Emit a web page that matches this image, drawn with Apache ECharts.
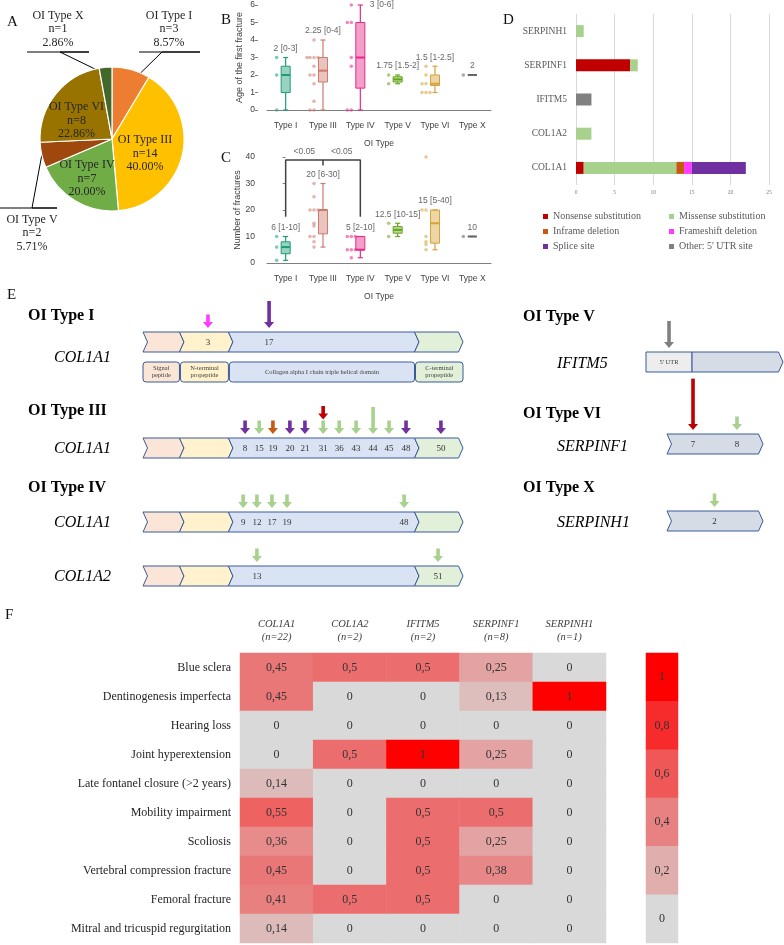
<!DOCTYPE html>
<html><head><meta charset="utf-8">
<script src="https://cdn.jsdelivr.net/npm/echarts@6/dist/echarts.min.js"></script>
<style>html,body{margin:0;padding:0;background:#fff}#c{width:784px;height:945px}</style>
</head><body><div id="c"></div>
<script>
// ================= DATA =================
// Panel A – distribution of OI types
const piePhenotypes = ['OI Type I','OI Type III','OI Type IV','OI Type V','OI Type VI','OI Type X'];
const pieCounts = [3,14,7,2,8,1];
const pieColors = ['#ED7D31','#FFC000','#70AD47','#9E480E','#997300','#43682B'];

// Panels B/C – box plots
const oiTypes = ['Type I','Type III','Type IV','Type V','Type VI','Type X'];
// [min, Q1, median, Q3, max]
const ageBox = [[0,1,2,2.5,3],[0,1.6,2.25,3,4],[0,1.25,3,5,6],[1.5,1.6,1.75,1.9,2],[1,1.4,1.5,2,2.5],[2,2,2,2,2]];
const agePoints = [[3,2,0],[4,3,3,3,3,2.5,2,2,1.5,0.5,0,0],[6,5,5,3,2.5,0,0],[2,1.5],[2.5,2,1.5,1.5,1,1,1],[2]];
const ageLabels = ['2 [0-3]','2.25 [0-4]','3 [0-6]','1.75 [1.5-2]','1.5 [1-2.5]','2'];
const fracBox = [[1,3.5,6,8,10],[6,11,20,20,30],[2,5,5,10,10],[10,11.25,12.5,13.75,15],[5,7.5,15,20,20],[10,10,10,10,10]];
const fracPoints = [[10,6,1],[30,25,20,20,20,15,14,10,10,8,6],[10,10,10,5,5,5,2],[15,10],[40,20,20,10,8,7,5],[10]];
const fracLabels = ['6 [1-10]','20 [6-30]','5 [2-10]','12.5 [10-15]','15 [5-40]','10'];
const fracSigPairs = [[0,1,'<0.05'],[1,2,'<0.05']];

// Panel D – mutation types per gene
const dGenes = ['COL1A1','COL1A2','IFITM5','SERPINF1','SERPINH1'];
const mutTypes = ['Nonsense substitution','Missense substitution','Inframe deletion','Frameshift deletion','Splice site',"Other: 5' UTR site"];
const mutColors = ['#C00000','#A9D18E','#C55A11','#FF3BFF','#7030A0','#808080'];
const nonsenseCounts = [1,0,0,7,0];
const missenseCounts = [12,2,0,1,1];
const inframeCounts = [1,0,0,0,0];
const frameshiftCounts = [1,0,0,0,0];
const spliceCounts = [7,0,0,0,0];
const otherCounts = [0,0,2,0,0];

// Panel E – mutation maps: [exon, position along schematic (%), mutation type index, patients]
const colDomainEnds = [12.8, 28.1, 86.25, 100];
const colDomainNames = ['Signal\npeptide','N-terminal\npropeptide','Collagen alpha I chain triple helical domain','C-terminal\npropeptide'];
const ifitm5Ends = [33.6, 100];
const ifitm5Names = ["5' UTR", ''];
const mutTypeI_COL1A1 = [['3',20.3,3,1],['17',39.4,4,2]];
const mutTypeIII_COL1A1 = [['8',31.9,4,1],['15',36.3,1,1],['19',40.6,2,1],['20',45.9,4,1],['21',50.6,4,1],['31',56.3,1,1],['31',56.3,0,1],['36',61.3,1,1],['43',66.6,1,1],['44',71.9,1,2],['45',76.9,1,1],['48',82.2,4,1],['50',93.1,4,1]];
const mutTypeIV_COL1A1 = [['9',31.3,1,1],['12',35.6,1,1],['17',40.3,1,1],['19',45,1,1],['48',81.6,1,1]];
const mutTypeIV_COL1A2 = [['13',35.6,1,1],['51',92.2,1,1]];
const mutTypeV_IFITM5 = [['',16.8,5,2]];
const mutTypeVI_SERPINF1 = [['7',27.1,0,7],['8',72.9,1,1]];
const mutTypeX_SERPINH1 = [['2',49.5,1,1]];

// Panel F – phenotype frequencies per gene
const fGenes = ['COL1A1','COL1A2','IFITM5','SERPINF1','SERPINH1'];
const fGeneN = [22,2,2,8,1];
const fFeatures = ['Blue sclera','Dentinogenesis imperfecta','Hearing loss','Joint hyperextension','Late fontanel closure (>2 years)','Mobility impairment','Scoliosis','Vertebral compression fracture','Femoral fracture','Mitral and tricuspid regurgitation'];
const fValues = [
  [0.45,0.5,0.5,0.25,0],
  [0.45,0,0,0.13,1],
  [0,0,0,0,0],
  [0,0.5,1,0.25,0],
  [0.14,0,0,0,0],
  [0.55,0,0.5,0.5,0],
  [0.36,0,0.5,0.25,0],
  [0.45,0,0.5,0.38,0],
  [0.41,0.5,0.5,0,0],
  [0.14,0,0,0,0]
];
const fScaleValues = [1,0.8,0.6,0.4,0.2,0];

// ================= STYLE / LAYOUT =================
const SERIF = '"Liberation Serif","DejaVu Serif",serif';
const SANS = '"Liberation Sans",Arial,sans-serif';
const typeColors = ['#1B9E77','#CF7A6D','#E7298A','#66A61E','#D6A23A','#666666'];
function rgba(hex,a){const n=parseInt(hex.slice(1),16);return 'rgba('+(n>>16)+','+((n>>8)&255)+','+(n&255)+','+a+')';}
const comma = v => String(v).replace('.', ',');

const chart = echarts.init(document.getElementById('c'), null, {renderer:'canvas'});
const grids = [], xAxes = [], yAxes = [], series = [];

// ---------- Panel A ----------
const PIE_C = [112,139], PIE_R = 72;
const pieTotal = pieCounts.reduce((a,b)=>a+b,0);
const pieOutside = {
  0:{cx:169, cy:29, ly:52, lx0:139, lx1:200, ax:162, k:0.75},
  3:{cx:32, cy:233, ly:208, lx0:0, lx1:57, ax:32, k:1.0},
  5:{cx:58, cy:29, ly:52, lx0:27, lx1:89, ax:60, k:0.9}
};
function midDir(idx){let cum=0;for(let i=0;i<idx;i++)cum+=pieCounts[i];const a=2*Math.PI*(cum+pieCounts[idx]/2)/pieTotal;return [Math.sin(a),-Math.cos(a)];}
series.push({
  type:'pie', center:PIE_C, radius:PIE_R, startAngle:90, clockwise:true,
  avoidLabelOverlap:false, minShowLabelAngle:0, silent:true,
  itemStyle:{borderColor:'#fff', borderWidth:1.2},
  label:{fontFamily:SERIF, fontSize:12, lineHeight:13.5, color:'#262626',
    formatter:p=>p.name+'\nn='+p.value+'\n'+p.percent.toFixed(2)+'%'},
  labelLine:{lineStyle:{color:'#000', width:1}},
  labelLayout:function(p){
    const o = pieOutside[p.dataIndex];
    if(!o) return {dx:-5, dy:6};
    const d = midDir(p.dataIndex);
    const s = [PIE_C[0]+o.k*PIE_R*d[0], PIE_C[1]+o.k*PIE_R*d[1]];
    return {x:o.cx, y:o.cy, align:'center', verticalAlign:'middle',
      labelLinePoints:[s,[o.ax,o.ly],[o.lx1,o.ly],[o.lx0,o.ly]]};
  },
  data: piePhenotypes.map((n,i)=>({name:n, value:pieCounts[i], itemStyle:{color:pieColors[i]},
    label:{position: pieOutside[i] ? 'outside' : 'inside'},
    labelLine:{show: !!pieOutside[i], length:10, length2:10}}))
});

// ---------- Panels B & C ----------
function boxPanel(gi, top, height, boxes, points, labels, yMax, yInt, yName, labelOverrides){
  grids.push({left:267, top:top, width:224, height:height});
  const xi = xAxes.length, yi = yAxes.length;
  xAxes.push({gridIndex:gi, type:'category', data:oiTypes, offset:6,
    axisLine:{lineStyle:{color:'#7f7f7f'}}, axisTick:{inside:true, length:4, alignWithLabel:true, lineStyle:{color:'#7f7f7f'}},
    axisLabel:{interval:0, fontFamily:SANS, fontSize:8.5, color:'#404040', margin:5},
    name:'OI Type', nameLocation:'middle', nameGap:23, nameTextStyle:{fontFamily:SANS, fontSize:8.5, color:'#404040'}});
  yAxes.push({gridIndex:gi, type:'value', min:0, max:yMax, interval:yInt, offset:9,
    axisLine:{show:false}, axisTick:{show:true, length:3, lineStyle:{color:'#7f7f7f'}}, splitLine:{show:false},
    axisLabel:{fontFamily:SANS, fontSize:8.5, color:'#404040', margin:3},
    name:yName, nameLocation:'middle', nameGap:14, nameTextStyle:{fontFamily:SANS, fontSize:9, color:'#404040'}});
  // boxes
  series.push({type:'custom', xAxisIndex:xi, yAxisIndex:yi, clip:false, silent:true,
    data: boxes.map((b,i)=>[i,b[2]]), encode:{x:0,y:1},
    renderItem:(params,api)=>{
      const i=params.dataIndex, b=boxes[i], c=typeColors[i];
      const x=api.coord([i,b[2]])[0]; const Y=v=>api.coord([i,v])[1];
      const hw=4.5, cw=2.5, lw=1.2, ch=[];
      ch.push({type:'line',shape:{x1:x,y1:Y(b[0]),x2:x,y2:Y(b[1])},style:{stroke:c,lineWidth:lw}});
      ch.push({type:'line',shape:{x1:x,y1:Y(b[3]),x2:x,y2:Y(b[4])},style:{stroke:c,lineWidth:lw}});
      ch.push({type:'line',shape:{x1:x-cw,y1:Y(b[0]),x2:x+cw,y2:Y(b[0])},style:{stroke:c,lineWidth:lw}});
      ch.push({type:'line',shape:{x1:x-cw,y1:Y(b[4]),x2:x+cw,y2:Y(b[4])},style:{stroke:c,lineWidth:lw}});
      ch.push({type:'rect',shape:{x:x-hw,y:Y(b[3]),width:2*hw,height:Math.max(Y(b[1])-Y(b[3]),0)},style:{fill:rgba(c,0.45),stroke:c,lineWidth:1}});
      ch.push({type:'line',shape:{x1:x-hw,y1:Y(b[2]),x2:x+hw,y2:Y(b[2])},style:{stroke:c,lineWidth:2}});
      return {type:'group',children:ch};
    }});
  // jittered points
  const pts=[];
  points.forEach((arr,i)=>{const seen={};arr.forEach(v=>{const k=seen[v]||0;seen[v]=k+1;
    const off=[-9,-13,-5,-16,-11][k%5];
    pts.push({value:[i,v], symbolOffset:[off,0], itemStyle:{color:rgba(typeColors[i],0.7)}});});});
  series.push({type:'scatter', xAxisIndex:xi, yAxisIndex:yi, symbolSize:3.6, clip:false, silent:true, data:pts, z:3});
  // summary labels
  series.push({type:'scatter', xAxisIndex:xi, yAxisIndex:yi, symbolSize:1, clip:false, silent:true,
    itemStyle:{color:'rgba(0,0,0,0)'},
    label:{show:true, position:'top', distance:4, fontFamily:SANS, fontSize:8.5, color:'#404040', formatter:p=>labels[p.dataIndex]},
    data: boxes.map((b,i)=>{const it={value:[i,b[4]]}; if(labelOverrides && labelOverrides[i]) it.label=labelOverrides[i]; return it;})});
  return {xi, yi};
}
boxPanel(0, 5, 105, ageBox, agePoints, ageLabels, 6, 1, 'Age of the first fracture', {2:{position:'right', distance:9}});
const cAx = boxPanel(1, 157, 106, fracBox, fracPoints, fracLabels, 40, 10, 'Number of fractures');
// hidden value x-axis in panel C for the significance bracket
const sigXi = xAxes.length;
xAxes.push({gridIndex:1, type:'value', min:-0.5, max:5.5, show:false});
const sigTop = 38.9, sigLow = 17.5, sigTick = 36.8;
const sigFirst = fracSigPairs[0][0], sigLast = fracSigPairs[fracSigPairs.length-1][1];
series.push({type:'line', xAxisIndex:sigXi, yAxisIndex:cAx.yi, symbol:'none', silent:true, clip:false,
  lineStyle:{color:'#404040', width:1.5},
  data:[[sigFirst,sigLow],[sigFirst,sigTop],[sigLast,sigTop],[sigLast,sigLow]]});
fracSigPairs.slice(0,-1).forEach(p=>{
  series.push({type:'line', xAxisIndex:sigXi, yAxisIndex:cAx.yi, symbol:'none', silent:true, clip:false,
    lineStyle:{color:'#404040', width:1.5}, data:[[p[1],sigTop],[p[1],sigTick]]});
});
series.push({type:'scatter', xAxisIndex:sigXi, yAxisIndex:cAx.yi, symbolSize:1, clip:false, silent:true,
  itemStyle:{color:'rgba(0,0,0,0)'},
  label:{show:true, position:'inside', fontFamily:SANS, fontSize:8.5, color:'#404040', formatter:p=>fracSigPairs[p.dataIndex][2]},
  data: fracSigPairs.map(p=>[(p[0]+p[1])/2, 41.9])});

// ---------- Panel D ----------
grids.push({left:576, top:14, width:193, height:171});
const dXi = xAxes.length, dYi = yAxes.length;
xAxes.push({gridIndex:2, type:'value', min:0, max:25, interval:5,
  axisLine:{show:false}, axisTick:{show:false},
  splitLine:{lineStyle:{color:'#D9D9D9', width:1}},
  axisLabel:{fontFamily:SERIF, fontSize:5.5, color:'#7f7f7f', margin:5}});
yAxes.push({gridIndex:2, type:'category', data:dGenes,
  axisLine:{show:false}, axisTick:{show:false},
  axisLabel:{fontFamily:SERIF, fontSize:9.5, color:'#595959', margin:9}});
[nonsenseCounts, missenseCounts, inframeCounts, frameshiftCounts, spliceCounts, otherCounts].forEach((arr,k)=>{
  series.push({type:'bar', name:mutTypes[k], stack:'d', xAxisIndex:dXi, yAxisIndex:dYi, barWidth:12, silent:true,
    itemStyle:{color:mutColors[k]}, data:arr});
});

// ---------- Panel F ----------
grids.push({left:240, top:653, width:366, height:290});
const fXi = xAxes.length, fYi = yAxes.length;
xAxes.push({gridIndex:3, type:'category', position:'top', data:fGenes.map((g,i)=>g+'\n(n='+fGeneN[i]+')'),
  axisLine:{show:false}, axisTick:{show:false}, splitArea:{show:false},
  axisLabel:{interval:0, fontFamily:SERIF, fontStyle:'italic', fontSize:10.5, lineHeight:13, color:'#404040', margin:9}});
yAxes.push({gridIndex:3, type:'category', inverse:true, data:fFeatures,
  axisLine:{show:false}, axisTick:{show:false}, splitArea:{show:false},
  axisLabel:{interval:0, fontFamily:SERIF, fontSize:12, color:'#262626', margin:9}});
const heatIdx = series.length;
const heatData=[]; fValues.forEach((row,r)=>row.forEach((v,c)=>heatData.push([c,r,v])));
series.push({type:'heatmap', xAxisIndex:fXi, yAxisIndex:fYi, silent:true, data:heatData,
  label:{show:true, fontFamily:SERIF, fontSize:12, color:'#333', formatter:p=>comma(p.value[2])}});
grids.push({left:646, top:653, width:32, height:290});
const sXi = xAxes.length, sYi = yAxes.length;
xAxes.push({gridIndex:4, type:'category', data:['scale'], show:false});
yAxes.push({gridIndex:4, type:'category', inverse:true, data:fScaleValues.map(comma), show:false});
const scaleIdx = series.length;
series.push({type:'heatmap', xAxisIndex:sXi, yAxisIndex:sYi, silent:true,
  data: fScaleValues.map((v,i)=>[0,i,v]),
  label:{show:true, fontFamily:SERIF, fontSize:12, color:'#333', formatter:p=>comma(p.value[2])}});

// ---------- Panel E ----------
const FILL_COL = ['#FBE5D6','#FFF2CC','#DAE3F3','#E2F0D9'];
const STROKE = '#3B5A9A';
const eRows = [
  {left:143, top:332, width:320, kind:'col', muts:mutTypeI_COL1A1},
  {left:143, top:438, width:320, kind:'col', muts:mutTypeIII_COL1A1},
  {left:143, top:512, width:320, kind:'col', muts:mutTypeIV_COL1A1},
  {left:143, top:566, width:320, kind:'col', muts:mutTypeIV_COL1A2},
  {left:646, top:352, width:137, kind:'ifitm5', muts:mutTypeV_IFITM5},
  {left:667, top:434, width:96, kind:'single', muts:mutTypeVI_SERPINF1},
  {left:667, top:511, width:96, kind:'single', muts:mutTypeX_SERPINH1},
  {left:143, top:362, width:320, kind:'domains', muts:[]}
];
function segDefs(kind){
  if(kind==='col' || kind==='domains') return colDomainEnds.map((e,i)=>({s:i?colDomainEnds[i-1]:0, e, fill:FILL_COL[i], notch:true, point:true, label: kind==='domains'?colDomainNames[i]:''}));
  if(kind==='ifitm5') return ifitm5Ends.map((e,i)=>({s:i?ifitm5Ends[i-1]:0, e, fill:i?'#D6DCE5':'#EDEDED', notch:false, point:i===1, label:ifitm5Names[i]}));
  return [{s:0, e:100, fill:'#D6DCE5', notch:true, point:true, label:''}];
}
eRows.forEach((row)=>{
  const gi = grids.length;
  grids.push({left:row.left, top:row.top, width:row.width, height:20});
  const xi = xAxes.length, yi = yAxes.length;
  xAxes.push({gridIndex:gi, type:'value', min:0, max:100, show:false});
  yAxes.push({gridIndex:gi, type:'value', min:0, max:1, show:false});
  const segs = segDefs(row.kind);
  const d = 4.5;
  if(row.kind==='domains'){
    series.push({type:'custom', xAxisIndex:xi, yAxisIndex:yi, clip:false, silent:true,
      data: segs.map(s=>[s.s, s.e, 0.5]), encode:{x:[0,1], y:2},
      renderItem:(params,api)=>{
        const i=params.dataIndex, sg=segs[i], last=segs.length-1;
        const yT=api.coord([0,1])[1], yB=api.coord([0,0])[1];
        const xs=api.coord([sg.s,0])[0], xe=api.coord([sg.e,0])[0];
        const L = i===0 ? xs : xs-d+1, R = i===last ? xe : xe-d;
        return {type:'group', children:[
          {type:'rect', shape:{x:L, y:yT, width:R-L, height:yB-yT, r:3}, style:{fill:sg.fill, stroke:STROKE, lineWidth:1}},
          {type:'text', style:{text:sg.label, x:(L+R)/2, y:(yT+yB)/2, align:'center', verticalAlign:'middle', textAlign:'center', textVerticalAlign:'middle', font:'6.5px '+SERIF, lineHeight:7.5, fill:'#404040'}}
        ]};
      }});
    return;
  }
  // gene bar segments
  series.push({type:'custom', xAxisIndex:xi, yAxisIndex:yi, clip:false, silent:true,
    data: segs.map(s=>[s.s, s.e, 0.5]), encode:{x:[0,1], y:2},
    renderItem:(params,api)=>{
      const sg=segs[params.dataIndex];
      const yT=api.coord([0,1])[1], yB=api.coord([0,0])[1], yM=(yT+yB)/2;
      const xs=api.coord([sg.s,0])[0], xe=api.coord([sg.e,0])[0];
      const L = sg.notch ? (sg.s===0 ? xs : xs-d) : xs;
      const Rc = sg.point ? xe-d : xe;
      const pts=[[L,yT],[Rc,yT]]; if(sg.point) pts.push([xe,yM]); pts.push([Rc,yB],[L,yB]); if(sg.notch) pts.push([L+d,yM]);
      const ch=[{type:'polygon', shape:{points:pts}, style:{fill:sg.fill, stroke:STROKE, lineWidth:1}}];
      if(sg.label) ch.push({type:'text', style:{text:sg.label, x:(L+Rc)/2, y:yM, align:'center', verticalAlign:'middle', textAlign:'center', textVerticalAlign:'middle', font:'6.5px '+SERIF, fill:'#404040'}});
      return {type:'group', children:ch};
    }});
  // mutation arrows + exon labels
  const muts = row.muts;
  const stackBase=[], firstOfExon=[];
  const arrowLen = n => 13.5*(1+Math.log2(n));
  muts.forEach((m,i)=>{
    let base=0, first=true;
    for(let j=0;j<i;j++){ if(muts[j][1]===m[1]){ base += arrowLen(muts[j][3])+1; first=false; } }
    stackBase.push(base); firstOfExon.push(first);
  });
  series.push({type:'custom', xAxisIndex:xi, yAxisIndex:yi, clip:false, silent:true, z:5,
    data: muts.map(m=>[m[1],0.5]), encode:{x:0,y:1},
    renderItem:(params,api)=>{
      const i=params.dataIndex, m=muts[i];
      const x=api.coord([m[1],0])[0];
      const yT=api.coord([0,1])[1], yB=api.coord([0,0])[1];
      const c=mutColors[m[2]], L=arrowLen(m[3]);
      const tip=yT-4-stackBase[i], hh=6, hwid=5, sw=1.8;
      const ch=[
        {type:'rect', shape:{x:x-sw, y:tip-L, width:2*sw, height:L-hh+0.5}, style:{fill:c}},
        {type:'polygon', shape:{points:[[x-hwid,tip-hh],[x+hwid,tip-hh],[x,tip]]}, style:{fill:c}}
      ];
      if(firstOfExon[i] && m[0]) ch.push({type:'text', style:{text:m[0], x:x, y:(yT+yB)/2+0.5, align:'center', verticalAlign:'middle', textAlign:'center', textVerticalAlign:'middle', font:'9px '+SERIF, fill:'#333'}});
      return {type:'group', children:ch};
    }});
});

// ---------- Text annotations ----------
const graphics = [];
function txt(t,x,y,font,fill){graphics.push({type:'text', x:x, y:y, silent:true, style:{text:t, font:font, fill:fill||'#000', verticalAlign:'middle', textVerticalAlign:'middle'}});}
[['A',7,22],['B',221,20],['C',221,158],['D',503,20],['E',7,295],['F',5,615]].forEach(a=>txt(a[0],a[1],a[2],'15px '+SERIF,'#111'));
[['OI Type I',28,316],['OI Type III',28,411],['OI Type IV',28,488],['OI Type V',523,317],['OI Type VI',523,414],['OI Type X',523,488]].forEach(a=>txt(a[0],a[1],a[2],'bold 16px '+SERIF,'#000'));
[['COL1A1',54,358],['COL1A1',54,449],['COL1A1',54,523],['COL1A2',54,577],['IFITM5',557,364],['SERPINF1',557,447],['SERPINH1',557,523]].forEach(a=>txt(a[0],a[1],a[2],'italic 16px '+SERIF,'#000'));

const legendBase = {orient:'vertical', icon:'rect', itemWidth:5, itemHeight:5, itemGap:0, selectedMode:false,
  textStyle:{fontFamily:SERIF, fontSize:10, color:'#595959', lineHeight:15}};

chart.setOption({
  animation:false,
  backgroundColor:'#fff',
  grid:grids, xAxis:xAxes, yAxis:yAxes, series:series, graphic:graphics,
  legend:[
    Object.assign({}, legendBase, {left:538, top:204, data:[mutTypes[0],mutTypes[2],mutTypes[4]]}),
    Object.assign({}, legendBase, {left:664, top:204, data:[mutTypes[1],mutTypes[3],mutTypes[5]]})
  ],
  visualMap:{type:'continuous', show:false, min:0, max:1, seriesIndex:[heatIdx, scaleIdx], inRange:{color:['#D9D9D9','#FF0000']}}
});
</script>
</body></html>
